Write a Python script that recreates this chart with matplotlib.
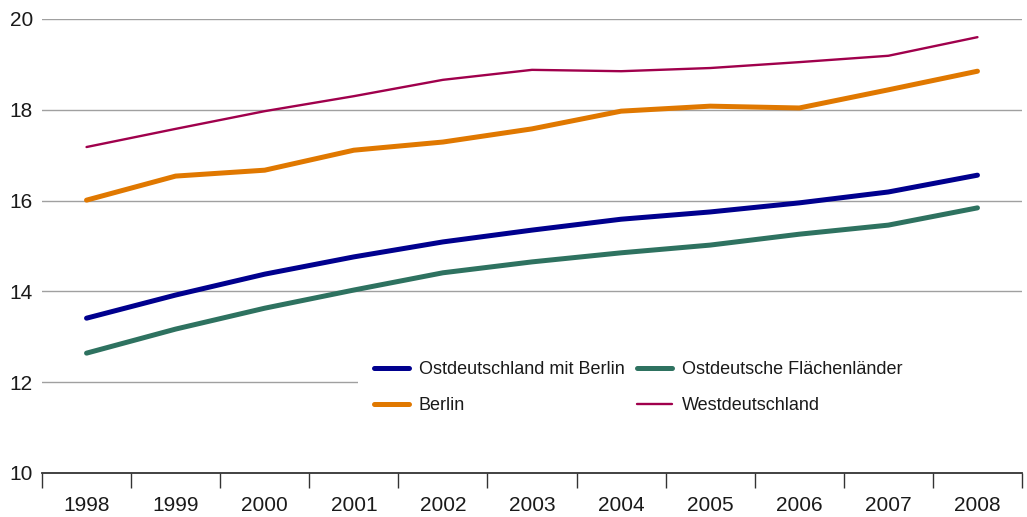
import matplotlib
matplotlib.use("Agg")
import matplotlib.pyplot as plt
from matplotlib.ticker import FixedLocator, NullFormatter, FixedFormatter
from matplotlib.patches import Rectangle

years = ["1998", "1999", "2000", "2001", "2002", "2003", "2004", "2005", "2006", "2007", "2008"]
ost_mit_berlin = [13.41, 13.92, 14.38, 14.76, 15.09, 15.35, 15.59, 15.75, 15.95, 16.19, 16.56]
ost_flaechen = [12.64, 13.17, 13.63, 14.03, 14.41, 14.65, 14.85, 15.02, 15.26, 15.46, 15.84]
berlin = [16.01, 16.54, 16.67, 17.11, 17.29, 17.58, 17.97, 18.08, 18.04, 18.44, 18.85]
west = [17.18, 17.58, 17.97, 18.30, 18.66, 18.88, 18.85, 18.92, 19.05, 19.19, 19.60]
yticks = [10, 12, 14, 16, 18, 20]

plt.rcParams['font.family'] = ['Liberation Sans', 'DejaVu Sans']

W, H = 1027, 517
fig = plt.figure(figsize=(W / 100, H / 100), dpi=100)
left, right, top, bottom = 42, 1022, 19, 473
ax = fig.add_axes([left / W, 1 - bottom / H, (right - left) / W, (bottom - top) / H])

x = list(range(len(years)))
kw = dict(solid_capstyle='round', solid_joinstyle='round', zorder=3)
l1, = ax.plot(x, ost_mit_berlin, color='#00008E', lw=3.6, **kw)
l2, = ax.plot(x, ost_flaechen, color='#2E7260', lw=3.6, **kw)
l3, = ax.plot(x, berlin, color='#E07800', lw=3.6, **kw)
l4, = ax.plot(x, west, color='#A0004C', lw=1.7, **kw)

ax.set_xlim(-0.5, len(years) - 0.5)
ax.set_ylim(10, 20)

for s in ['left', 'right', 'top']:
    ax.spines[s].set_visible(False)
ax.spines['bottom'].set_color('#333333')
ax.spines['bottom'].set_linewidth(1.3)
ax.spines['bottom'].set_zorder(4)

# y ticks / gridlines
ax.set_yticks(yticks)
ax.set_yticklabels([str(v) for v in yticks])
ax.tick_params(axis='y', length=0, pad=6.5, labelsize=15, colors='#1a1a1a')
for v in yticks[1:]:
    ax.axhline(v, color='#A0A0A0', lw=1.0, zorder=1)

# x ticks: marks between categories, labels at centers
ax.xaxis.set_major_locator(FixedLocator([i - 0.5 for i in range(len(years) + 1)]))
ax.xaxis.set_major_formatter(NullFormatter())
ax.xaxis.set_minor_locator(FixedLocator(x))
ax.xaxis.set_minor_formatter(FixedFormatter(years))
ax.tick_params(axis='x', which='major', length=11, width=1.0, color='#333333', direction='out')
ax.tick_params(axis='x', which='minor', length=0, pad=16.5, labelsize=15, labelcolor='#1a1a1a')

# white legend background reaching the right edge
leg_left = (358 - left) / (right - left)
ax.add_patch(Rectangle((leg_left, (bottom - 430) / (bottom - top)), 1 - leg_left,
                       (430 - 345) / (bottom - top), transform=ax.transAxes,
                       facecolor='white', edgecolor='none', zorder=1.5))

leg_fs = 13
px = leg_fs * 100 / 72
leg = ax.legend([l1, l3, l2, l4],
                ["Ostdeutschland mit Berlin", "Berlin", "Ostdeutsche Flächenländer", "Westdeutschland"],
                ncol=2, loc='upper left', bbox_to_anchor=(leg_left, (bottom - 345) / (bottom - top)),
                frameon=False, prop={'size': leg_fs},
                handlelength=35 / px, handletextpad=10 / px,
                columnspacing=12 / px,
                labelspacing=1.08, borderpad=16 / px, borderaxespad=0)
leg.set_zorder(2)
for t in leg.get_texts():
    t.set_color('#1a1a1a')

fig.savefig('out.png', dpi=100, facecolor='white')
